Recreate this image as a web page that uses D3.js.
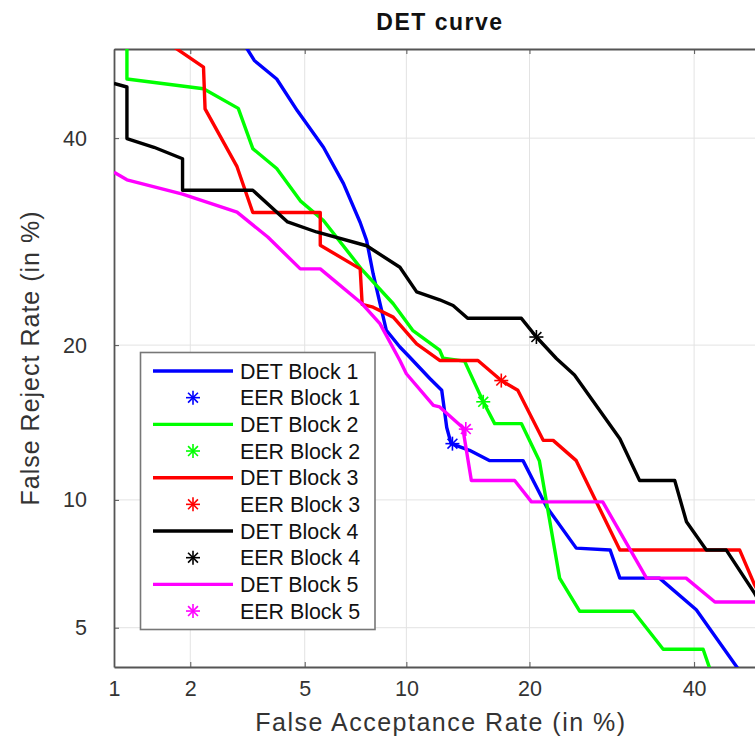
<!DOCTYPE html>
<html lang="en">
<head>
  <meta charset="UTF-8">
  <title>DET curve</title>
  <script src="https://d3js.org/d3.v7.min.js"></script>
  <style>
    body { margin: 0; background: #fff; font-family: "Liberation Sans", Arial, sans-serif; }
    svg { display: block; }
    .grid line { stroke: #e3e3e3; stroke-width: 1; }
    .axis text { fill: #333; font-size: 21.5px; font-family: "Liberation Sans", Arial, sans-serif; }
    .axis path, .axis line { stroke: #555; }
    .det { fill: none; stroke-width: 3.4; stroke-linejoin: round; }
  </style>
</head>
<body>
  <div id="chart"></div>

  <script>
    // values in percent: [false acceptance, false reject]
    const det1 = [[3.17, 50.3], [3.4, 48.7], [4.05, 46.6], [4.73, 43.05], [5.73, 39], [6.6, 35.1],
      [7.4, 31.1], [7.73, 29.3], [8.07, 26.15], [8.44, 23.5], [8.8, 21.2], [9.6, 19.85], [10.2, 19.07],
      [11.55, 17.45], [12.4, 16.6], [12.77, 14.1], [13.1, 13.1], [14.55, 12.7], [16.27, 12.1],
      [19.36, 12.1], [21.75, 9.66], [25.0, 7.8], [29.0, 7.72], [30.2, 6.63], [35.3, 6.63],
      [40.3, 5.55], [46.2, 3.9]];
    const det2 = [[1.13, 50.5], [1.13, 46.6], [2.24, 45.5], [2.99, 43.3], [3.36, 38.85], [4.05, 36.7],
      [4.84, 33.3], [5.73, 31.3], [7.5, 26.5], [9.2, 23.45], [10.4, 21.2], [12.25, 19.6], [12.5, 18.97],
      [14.15, 18.75], [15.7, 15.8], [16.7, 14.35], [19.2, 14.35], [21.0, 12.1], [23.15, 6.63],
      [25.4, 5.5], [31.9, 5.5], [35.8, 4.4], [41.25, 4.4], [42.2, 3.9]];
    const det3 = [[1.7, 50.4], [2.24, 47.95], [2.27, 43.25], [2.96, 36.9], [3.36, 32.1], [5.6, 32.1],
      [5.6, 28.85], [7.4, 26.6], [7.5, 23.4], [8.07, 23.15], [9.2, 22.3], [10.66, 20.1], [12.25, 18.8],
      [15.25, 18.8], [17.3, 17.3], [18.85, 16.6], [21.4, 13.3], [22.45, 13.3], [25.0, 12.1],
      [30.2, 7.72], [46.4, 7.72], [48.5, 6.4], [50, 5.7]];
    const det4 = [[1.0, 46.1], [1.13, 45.7], [1.13, 39.95], [1.45, 39.0], [1.87, 37.75], [1.87, 34.4],
      [3.36, 34.4], [4.4, 31.15], [5.45, 30.15], [7.73, 28.8], [9.6, 26.75], [10.66, 24.5],
      [12.25, 23.8], [13.25, 23.3], [14.4, 22.2], [19.2, 22.2], [20.7, 20.65], [22.8, 18.95],
      [24.8, 17.7], [30.2, 13.4], [32.7, 11.0], [37.35, 11.0], [38.95, 8.95], [41.7, 7.72],
      [44.5, 7.72], [48.5, 6.1], [50, 5.5]];
    const det5 = [[1.0, 36.3], [1.13, 35.5], [1.87, 34.0], [2.96, 32.15], [3.78, 29.65], [4.84, 26.6],
      [5.6, 26.6], [7.5, 23.45], [8.44, 21.75], [9.6, 18.8], [10.0, 17.8], [11.8, 15.55],
      [12.25, 15.45], [14.0, 14.1], [14.7, 11.0], [18.55, 11.0], [20.2, 9.9], [28.1, 9.9],
      [33.6, 6.63], [38.9, 6.63], [42.9, 5.8], [50, 5.8]];

    const eerFAR = [13.2, 15.7, 17.3, 20.7, 14.25];
    const eerFRR = [13.1, 15.8, 17.3, 20.65, 14.0];

    const blockNames = ["Block 1", "Block 2", "Block 3", "Block 4", "Block 5"];
    const colors = ["#0000ff", "#00ff00", "#ff0000", "#000000", "#ff00ff"];

    const xTicks = [1, 2, 5, 10, 20, 40];
    const yTicks = [5, 10, 20, 40];

    // inverse normal CDF (Acklam) for the DET axis warp
    function probit(p) {
      const a = [-3.969683028665376e+01, 2.209460984245205e+02, -2.759285104469687e+02,
        1.383577518672690e+02, -3.066479806614716e+01, 2.506628277459239e+00];
      const b = [-5.447609879822406e+01, 1.615858368580409e+02, -1.556989798598866e+02,
        6.680131188771972e+01, -1.328068155288572e+01];
      const c = [-7.784894002430293e-03, -3.223964580411365e-01, -2.400758277161838e+00,
        -2.549732539343734e+00, 4.374664141464968e+00, 2.938163982698783e+00];
      const d = [7.784695709041462e-03, 3.224671290700398e-01, 2.445134137142996e+00,
        3.754408661907416e+00];
      const plow = 0.02425;
      if (p < plow) {
        const q = Math.sqrt(-2 * Math.log(p));
        return (((((c[0] * q + c[1]) * q + c[2]) * q + c[3]) * q + c[4]) * q + c[5]) /
          ((((d[0] * q + d[1]) * q + d[2]) * q + d[3]) * q + 1);
      }
      if (p <= 1 - plow) {
        const q = p - 0.5, r = q * q;
        return (((((a[0] * r + a[1]) * r + a[2]) * r + a[3]) * r + a[4]) * r + a[5]) * q /
          (((((b[0] * r + b[1]) * r + b[2]) * r + b[3]) * r + b[4]) * r + 1);
      }
      const q = Math.sqrt(-2 * Math.log(1 - p));
      return -(((((c[0] * q + c[1]) * q + c[2]) * q + c[3]) * q + c[4]) * q + c[5]) /
        ((((d[0] * q + d[1]) * q + d[2]) * q + d[3]) * q + 1);
    }
    const pz = v => probit(v / 100);

    const width = 755, height = 740;
    const plotL = 114, plotR = 765, plotT = 49, plotB = 667;

    const x = d3.scaleLinear().domain([pz(1), pz(50)]).range([plotL, plotR]);
    const y = d3.scaleLinear().domain([pz(3.95), pz(50)]).range([plotB, plotT]);

    const svg = d3.select("#chart").append("svg")
      .attr("width", width)
      .attr("height", height);

    svg.append("defs").append("clipPath").attr("id", "plotclip")
      .append("rect")
      .attr("x", plotL).attr("y", plotT)
      .attr("width", plotR - plotL).attr("height", plotB - plotT);

    // grid
    const grid = svg.append("g").attr("class", "grid");
    grid.selectAll(".gx").data(xTicks.slice(1)).join("line")
      .attr("x1", d => x(pz(d))).attr("x2", d => x(pz(d)))
      .attr("y1", plotT).attr("y2", plotB);
    grid.selectAll(".gy").data(yTicks).join("line")
      .attr("x1", plotL).attr("x2", plotR)
      .attr("y1", d => y(pz(d))).attr("y2", d => y(pz(d)));

    // axes (ticks point inward)
    const xAxis = d3.axisBottom(x)
      .tickValues(xTicks.map(pz))
      .tickFormat((d, i) => xTicks[i])
      .tickSizeInner(-5).tickSizeOuter(0).tickPadding(14);
    svg.append("g").attr("class", "axis")
      .attr("transform", `translate(0,${plotB})`)
      .call(xAxis)
      .call(g => g.select(".domain").attr("stroke-width", 1.8));

    svg.append("g").attr("class", "axis")
      .attr("transform", `translate(0,${plotT})`)
      .call(d3.axisTop(x).tickValues(xTicks.map(pz)).tickFormat("").tickSizeInner(-5).tickSizeOuter(0))
      .call(g => g.select(".domain").attr("stroke-width", 1.8));

    const yAxis = d3.axisLeft(y)
      .tickValues(yTicks.map(pz))
      .tickFormat((d, i) => yTicks[i])
      .tickSizeInner(-5).tickSizeOuter(0).tickPadding(27);
    svg.append("g").attr("class", "axis")
      .attr("transform", `translate(${plotL},0)`)
      .call(yAxis)
      .call(g => g.select(".domain").attr("stroke-width", 1.8));

    // curves
    const line = d3.line().x(d => x(pz(d[0]))).y(d => y(pz(d[1])));
    const curves = [det1, det2, det3, det4, det5];
    const plot = svg.append("g").attr("clip-path", "url(#plotclip)");
    plot.selectAll("path.det").data(curves).join("path")
      .attr("class", "det")
      .attr("stroke", (d, i) => colors[i])
      .attr("d", line);

    function star(g, cx, cy, color) {
      const r = 7;
      [0, 45, 90, 135].forEach(a => {
        const t = a * Math.PI / 180;
        g.append("line")
          .attr("x1", cx - r * Math.cos(t)).attr("y1", cy - r * Math.sin(t))
          .attr("x2", cx + r * Math.cos(t)).attr("y2", cy + r * Math.sin(t))
          .attr("stroke", color).attr("stroke-width", 1.6);
      });
    }
    eerFAR.forEach((v, i) => star(plot, x(pz(v)), y(pz(eerFRR[i])), colors[i]));

    // legend
    const lg = svg.append("g");
    lg.append("rect")
      .attr("x", 140.5).attr("y", 352.5).attr("width", 234.5).attr("height", 277)
      .attr("fill", "#fff").attr("stroke", "#777").attr("stroke-width", 1.6);
    blockNames.forEach((name, i) => {
      const r1 = 371 + 2 * i * 26.67, r2 = r1 + 26.67;
      lg.append("line").attr("x1", 153).attr("x2", 233).attr("y1", r1).attr("y2", r1)
        .attr("stroke", colors[i]).attr("stroke-width", 3.4);
      star(lg, 193, r2, colors[i]);
      [["DET " + name, r1], ["EER " + name, r2]].forEach(([t, ry]) => {
        lg.append("text").attr("x", 240).attr("y", ry + 7.5)
          .attr("font-size", 21.4).attr("fill", "#111").text(t);
      });
    });

    // title and labels
    svg.append("text")
      .attr("x", 440).attr("y", 30)
      .attr("text-anchor", "middle")
      .attr("font-size", 23).attr("font-weight", "bold")
      .attr("letter-spacing", 1.5)
      .attr("fill", "#111")
      .text("DET curve");

    svg.append("text")
      .attr("x", 441).attr("y", 731)
      .attr("text-anchor", "middle")
      .attr("font-size", 25).attr("letter-spacing", 1.5)
      .attr("fill", "#333")
      .text("False Acceptance Rate (in %)");

    svg.append("text")
      .attr("transform", "translate(38.5,358) rotate(-90)")
      .attr("text-anchor", "middle")
      .attr("font-size", 25).attr("letter-spacing", 1)
      .attr("fill", "#333")
      .text("False Reject Rate (in %)");
  </script>
</body>
</html>
